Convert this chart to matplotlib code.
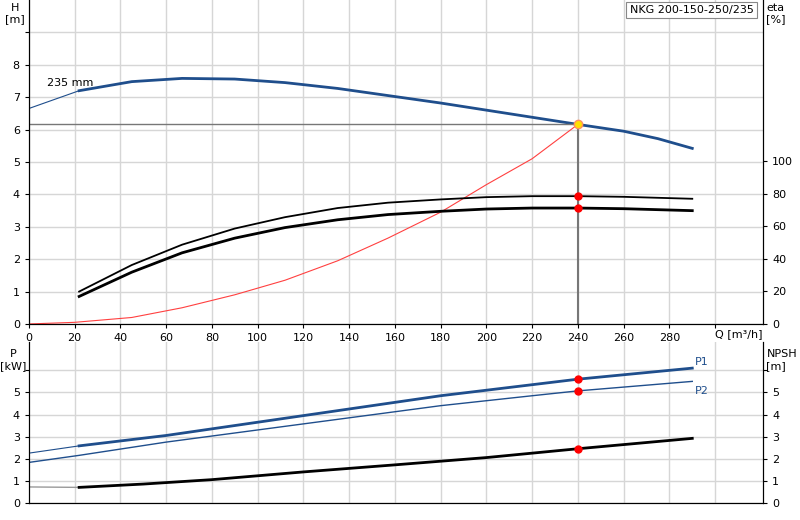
import matplotlib
matplotlib.use("Agg")
import matplotlib.pyplot as plt
import numpy as np

# pump head curve (235 mm impeller)
q_h = [0, 22, 45, 67, 90, 112, 135, 157, 180, 200, 220, 240, 260, 275, 290]
h_h = [6.65, 7.2, 7.48, 7.58, 7.56, 7.45, 7.27, 7.05, 6.82, 6.6, 6.38, 6.16, 5.95, 5.72, 5.42]
# system curve
q_sys = [0, 20, 45, 67, 90, 112, 135, 157, 180, 200, 220, 240]
h_sys = [0, 0.05, 0.2, 0.5, 0.9, 1.35, 1.95, 2.65, 3.45, 4.3, 5.1, 6.16]
# efficiencies [%]
q_eta = [22, 45, 67, 90, 112, 135, 157, 180, 200, 220, 240, 260, 290]
eta_hi = [19.9, 36.2, 48.7, 58.6, 65.6, 71.2, 74.5, 76.5, 77.9, 78.5, 78.5, 78.1, 76.9]
eta_lo = [16.9, 31.8, 43.7, 52.7, 59.2, 64.0, 67.2, 69.2, 70.6, 71.2, 71.2, 70.8, 69.6]
# power and NPSH
q_p = [0, 22, 60, 100, 140, 180, 220, 240, 290]
p1 = [2.25, 2.58, 3.05, 3.65, 4.25, 4.85, 5.35, 5.6, 6.1]
p2 = [1.83, 2.15, 2.75, 3.3, 3.85, 4.4, 4.85, 5.07, 5.5]
q_npsh = [0, 22, 50, 80, 120, 160, 200, 240, 290]
npsh = [0.72, 0.7, 0.85, 1.05, 1.4, 1.72, 2.05, 2.45, 2.92]

Q_OP, H_OP = 240, 6.16
BLUE = "#1f4e8c"
GRID = "#d6d6d6"

fig = plt.figure(figsize=(8, 5.2), dpi=100)
ax = fig.add_axes([0.036, 0.377, 0.918, 0.623])
ax2 = ax.twinx()
axb = fig.add_axes([0.036, 0.033, 0.918, 0.31])
axb2 = axb.twinx()

for a in (ax, axb):
    a.set_xlim(0, 321)
    a.set_xticks(np.arange(20, 320, 20))
    a.grid(True, color=GRID, lw=1)
    a.set_axisbelow(True)
    a.spines["top"].set_visible(False)
    a.tick_params(labelsize=8, length=3)

# top panel
ax.set_ylim(0, 10)
ax.set_yticks(range(0, 10))
ax.set_yticklabels([str(i) if i <= 8 else "" for i in range(10)])
ax.set_xticks(np.arange(0, 320, 20))
ax.set_xticklabels([str(v) if v <= 280 else "" for v in range(0, 320, 20)])
ax.plot(q_h[:2], h_h[:2], color=BLUE, lw=0.8)
ax.plot(q_h[1:], h_h[1:], color=BLUE, lw=2)
ax.plot(q_sys, h_sys, color="#ff4040", lw=0.8)
ax.plot([0, Q_OP], [H_OP, H_OP], color="#777777", lw=1)
ax.plot([Q_OP, Q_OP], [0, H_OP], color="#777777", lw=1.5)
ax.plot(Q_OP, H_OP, "o", ms=6, mfc="#ffe000", mec="#ff9060", zorder=5)
ax.text(8, 7.35, "235 mm", fontsize=8)
ax.text(300, -0.15, "Q [m³/h]", fontsize=8, va="top", ha="left")
fig.text(0.019, 0.995, "H\n[m]", ha="center", va="top", fontsize=8)
fig.text(0.958, 0.995, "eta\n[%]", ha="left", va="top", fontsize=8)
ax.text(0.987, 0.985, "NKG 200-150-250/235", transform=ax.transAxes, ha="right", va="top",
        fontsize=8, bbox=dict(boxstyle="square,pad=0.3", fc="white", ec="#888888", lw=0.8))

ax2.set_ylim(0, 199)
ax2.set_yticks(range(0, 101, 20))
ax2.tick_params(labelsize=8, length=3)
ax2.spines["top"].set_visible(False)
ax2.plot(q_eta, eta_hi, color="black", lw=1.3)
ax2.plot(q_eta, eta_lo, color="black", lw=2)
ax2.plot([Q_OP, Q_OP], [78.5, 71.2], "o", color="red", ms=5)

# bottom panel
axb.set_ylim(0, 7.3)
axb.set_yticks(range(0, 7))
axb.set_yticklabels([str(i) if i <= 5 else "" for i in range(7)])
axb.set_xticklabels([])
axb.tick_params(axis="x", length=0)
axb.plot(q_p[:2], p1[:2], color=BLUE, lw=0.8)
axb.plot(q_p[1:], p1[1:], color=BLUE, lw=2)
axb.plot(q_p, p2, color=BLUE, lw=1)
axb.plot(q_npsh[:2], npsh[:2], color="#999999", lw=1)
axb.plot(q_npsh[1:], npsh[1:], color="black", lw=2)
axb.plot([Q_OP, Q_OP, Q_OP], [5.6, 5.07, 2.45], "o", color="red", ms=5)
axb.text(291, 6.25, "P1", color=BLUE, fontsize=8)
axb.text(291, 4.95, "P2", color=BLUE, fontsize=8)
fig.text(0.017, 0.328, "P\n[kW]", ha="center", va="top", fontsize=8)
fig.text(0.958, 0.328, "NPSH\n[m]", ha="left", va="top", fontsize=8)

axb2.set_ylim(0, 7.3)
axb2.set_yticks(range(0, 7))
axb2.set_yticklabels([str(i) if i <= 5 else "" for i in range(7)])
axb2.tick_params(labelsize=8, length=3)
axb2.spines["top"].set_visible(False)

fig.savefig("out.png", dpi=100)
